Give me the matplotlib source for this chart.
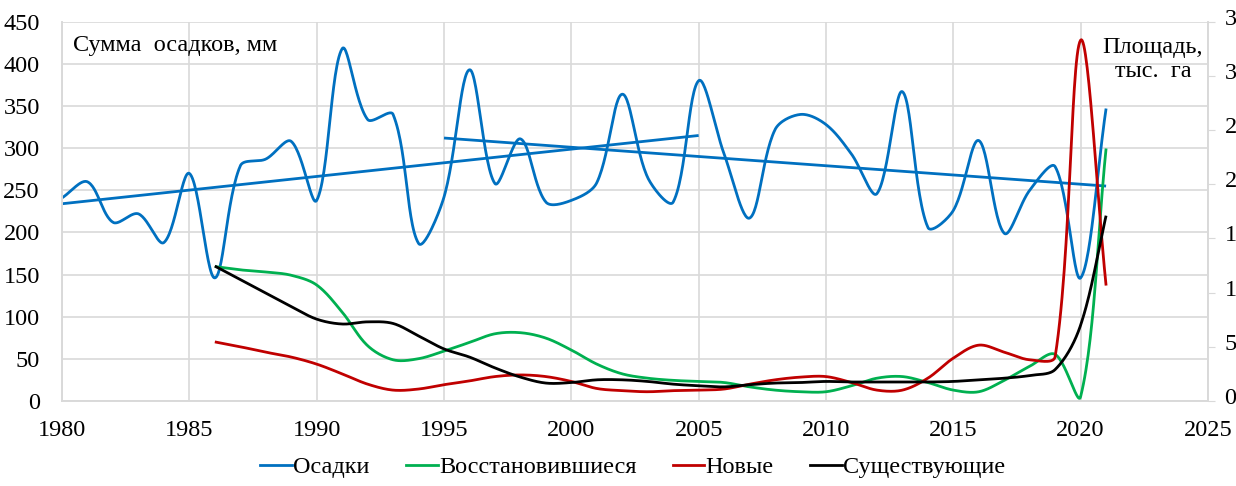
import numpy as np
import matplotlib
matplotlib.use('Agg')
import matplotlib.pyplot as plt
import matplotlib.transforms as mtransforms
from matplotlib.lines import Line2D

plt.rcParams['font.family'] = ['Liberation Serif', 'DejaVu Serif']

# осадки, мм
years = list(range(1980, 2022))
precip = [241, 260, 212, 222, 188, 270, 146, 279, 287, 308,
          238, 418, 334, 340, 187, 242, 393, 258, 311, 236,
          238, 259, 364, 265, 236, 380, 293, 217, 322, 340,
          328, 293, 246, 367, 206, 226, 309, 199, 250, 278,
          146, 347]

# линии тренда
trend1_years = [1980, 2005]
trend1 = [234, 315]
trend2_years = [1995, 2021]
trend2 = [312, 255]

# площадь, тыс. га
area_years = list(range(1986, 2022))
recovered = [12.4, 12.1, 11.9, 11.6, 10.7, 8.2, 5.1, 3.8, 3.9, 4.6,
             5.4, 6.2, 6.3, 5.8, 4.7, 3.4, 2.5, 2.1, 1.9, 1.8,
             1.7, 1.3, 1.0, 0.85, 0.85, 1.4, 2.1, 2.25, 1.7, 1.0,
             0.85, 1.9, 3.2, 4.3, 0.4, 23.3]
new = [5.45, 5.0, 4.5, 4.05, 3.4, 2.5, 1.55, 1.0, 1.1, 1.5,
       1.85, 2.25, 2.4, 2.25, 1.8, 1.15, 0.95, 0.85, 0.95, 1.0,
       1.1, 1.55, 1.95, 2.2, 2.25, 1.7, 1.0, 1.0, 2.1, 3.95,
       5.15, 4.5, 3.8, 4.1, 33.3, 10.65]
existing = [12.45, 11.2, 9.95, 8.7, 7.55, 7.1, 7.3, 7.15, 6.0, 4.8,
            4.05, 3.05, 2.2, 1.65, 1.7, 1.95, 1.95, 1.8, 1.55, 1.4,
            1.3, 1.5, 1.65, 1.7, 1.8, 1.75, 1.75, 1.75, 1.75, 1.8,
            1.95, 2.1, 2.35, 2.9, 7.0, 17.1]

PX_YEAR = 25.47          # пикселей на год
PX_LEFT = 380 / 450      # пикселей на мм
PX_RIGHT = 380 / 35      # пикселей на тыс. га


def smooth(x, y, sy, n=30):
    # сглаживание в духе Excel: Безье, управляющие точки по соседям
    P = np.column_stack([np.asarray(x, float) * PX_YEAR, np.asarray(y, float) * sy])
    P = np.vstack([P[0], P, P[-1]])
    t = np.linspace(0, 1, n)[:, None]
    out = []
    for i in range(len(P) - 3):
        p0, p1, p2, p3 = P[i], P[i + 1], P[i + 2], P[i + 3]
        d01 = np.hypot(*(p1 - p0))
        d12 = np.hypot(*(p2 - p1))
        d23 = np.hypot(*(p3 - p2))
        c1 = p1 + (p2 - p0) * d12 / (d01 + d12) / 3
        c2 = p2 - (p3 - p1) * d12 / (d12 + d23) / 3
        seg = (1 - t) ** 3 * p1 + 3 * (1 - t) ** 2 * t * c1 + 3 * (1 - t) * t ** 2 * c2 + t ** 3 * p2
        out.append(seg if i == 0 else seg[1:])
    out = np.vstack(out)
    return out[:, 0] / PX_YEAR, out[:, 1] / sy


blue = '#0070C0'
green = '#00B050'
red = '#C00000'
grid_c = '#D9D9D9'
fs = 17.5

fig = plt.figure(figsize=(12.36, 4.86), dpi=100)
ax = fig.add_axes([0.0502, 0.175, 0.9271, 0.7803])
ax2 = ax.twinx()

sx, sy = smooth(years, precip, PX_LEFT)
ax.plot(sx, sy, color=blue, lw=2, solid_capstyle='butt')
ax.plot(trend1_years, trend1, color=blue, lw=2, solid_capstyle='butt')
ax.plot(trend2_years, trend2, color=blue, lw=2, solid_capstyle='butt')

for vals, col in ((recovered, green), (new, red), (existing, 'black')):
    sx, sy = smooth(area_years, vals, PX_RIGHT)
    ax2.plot(sx, sy, color=col, lw=2, solid_capstyle='butt')

ax.set_xlim(1980, 2025)
ax.set_ylim(0, 450)
ax2.set_ylim(0, 35)
ax.set_xticks(range(1980, 2026, 5))
ax.set_yticks(range(0, 451, 50))
ax2.set_yticks(range(0, 36, 5))

ax.grid(True, color=grid_c, lw=1.2)
ax.set_axisbelow(True)
for a in (ax, ax2):
    for s in a.spines.values():
        s.set_color(grid_c)
        s.set_linewidth(1.2)
    a.spines['top'].set_visible(False)

ax.tick_params(axis='both', length=0, labelsize=fs, colors='black')
ax.tick_params(axis='y', pad=16)
ax.tick_params(axis='x', pad=14)
ax2.tick_params(axis='y', length=5, color=grid_c, labelsize=fs, pad=7, labelcolor='black')

# подписи правой оси чуть выше делений, как в оригинале
shift = mtransforms.ScaledTranslation(0, 5 / 100, fig.dpi_scale_trans)
for lab in ax2.get_yticklabels():
    lab.set_transform(lab.get_transform() + shift)

ax.text(0.0096, 0.937, 'Сумма  осадков, мм', transform=ax.transAxes,
        fontsize=fs, ha='left', va='center')
ax.text(0.952, 0.901, 'Площадь,\nтыс.  га', transform=ax.transAxes,
        fontsize=fs, ha='center', va='center', linespacing=1.2)

handles = [Line2D([], [], color=blue, lw=2),
           Line2D([], [], color=green, lw=2),
           Line2D([], [], color=red, lw=2),
           Line2D([], [], color='black', lw=2)]
labels = ['Осадки', 'Восстановившиеся', 'Новые', 'Существующие']
fig.legend(handles, labels, loc='center', bbox_to_anchor=(0.512, 0.039), ncol=4,
           frameon=False, fontsize=fs, handlelength=1.3, handletextpad=0.05,
           columnspacing=1.5)

fig.savefig('out.png', dpi=100)
